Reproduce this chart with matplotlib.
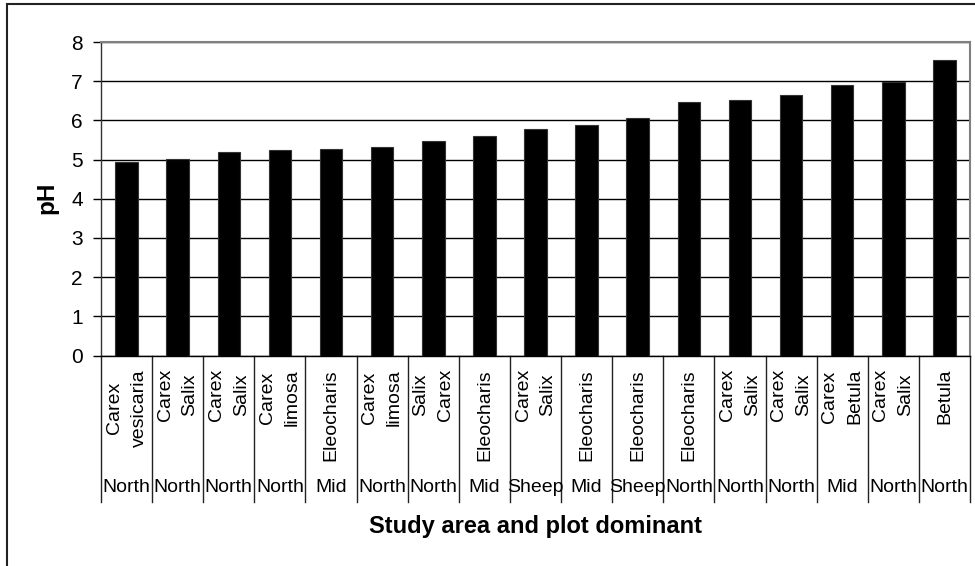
import matplotlib
matplotlib.use("Agg")
import matplotlib.pyplot as plt
import matplotlib.transforms as mtransforms
from matplotlib.patches import Rectangle
import numpy as np

species = ['Carex\nvesicaria', 'Carex\nSalix', 'Carex\nSalix', 'Carex\nlimosa', 'Eleocharis',
           'Carex\nlimosa', 'Salix\nCarex', 'Eleocharis', 'Carex\nSalix', 'Eleocharis',
           'Eleocharis', 'Eleocharis', 'Carex\nSalix', 'Carex\nSalix', 'Carex\nBetula',
           'Carex\nSalix', 'Betula']
regions = ['North', 'North', 'North', 'North', 'Mid', 'North', 'North', 'Mid', 'Sheep', 'Mid',
           'Sheep', 'North', 'North', 'North', 'Mid', 'North', 'North']
ph = [4.95, 5.01, 5.19, 5.24, 5.28, 5.32, 5.47, 5.60, 5.78, 5.87, 6.06, 6.47, 6.51, 6.66,
      6.89, 6.97, 7.53]
yticks = [0, 1, 2, 3, 4, 5, 6, 7, 8]

plt.rcParams['font.family'] = ['Liberation Sans', 'DejaVu Sans']

W, H = 975, 566
fig = plt.figure(figsize=(W / 100, H / 100), dpi=100)
fig.patch.set_facecolor('white')

# outer chart border
fig.add_artist(Rectangle((7 / W, -0.05), 1.1, 1 - 4 / H + 0.05, transform=fig.transFigure,
                         fill=False, edgecolor='#222222', linewidth=1.5))

left, right, top, bottom = 101, 970, 42, 355.5
ax = fig.add_axes([left / W, 1 - bottom / H, (right - left) / W, (bottom - top) / H])

x = np.arange(len(ph))
ax.bar(x, ph, width=0.44, color='black', edgecolor='#333333', linewidth=0.8, zorder=3)

ax.set_xlim(-0.5, len(ph) - 0.5)
ax.set_ylim(0, 8)
ax.set_yticks(yticks)
ax.set_yticklabels([str(t) for t in yticks], fontsize=15)
ax.tick_params(axis='y', direction='out', length=6, width=1, pad=7, colors='black')
ax.set_xticks([])
ax.grid(axis='y', color='black', linewidth=1, zorder=0)

for s in ['top', 'right']:
    ax.spines[s].set_color('#808080')
    ax.spines[s].set_linewidth(1.5)
ax.spines['left'].set_color('#333333')
ax.spines['bottom'].set_color('black')
ax.spines['left'].set_linewidth(1)
ax.spines['bottom'].set_linewidth(1)

blend = mtransforms.blended_transform_factory(ax.transData, fig.transFigure)

# category separators
for b in np.arange(len(ph) + 1) - 0.5:
    ax.plot([b, b], [1 - bottom / H, 1 - 502 / H], transform=blend, color='#222222',
            linewidth=1, clip_on=False)

for i, (sp, rg) in enumerate(zip(species, regions)):
    ax.text(i, 1 - 369 / H, sp, rotation=90, ha='center', va='top', multialignment='center',
            linespacing=1.6, fontsize=14, transform=blend, clip_on=False)
    ax.text(i, 1 - 487 / H, rg, ha='center', va='center', fontsize=14, transform=blend,
            clip_on=False)

fig.text((left + right) / 2 / W, 1 - 526 / H, 'Study area and plot dominant', ha='center',
         va='center', fontsize=17, fontweight='bold')
fig.text(47 / W, 1 - 198 / H, 'pH', rotation=90, ha='center', va='center', fontsize=17.5,
         fontweight='bold')

fig.savefig('out.png', dpi=100, facecolor='white')
